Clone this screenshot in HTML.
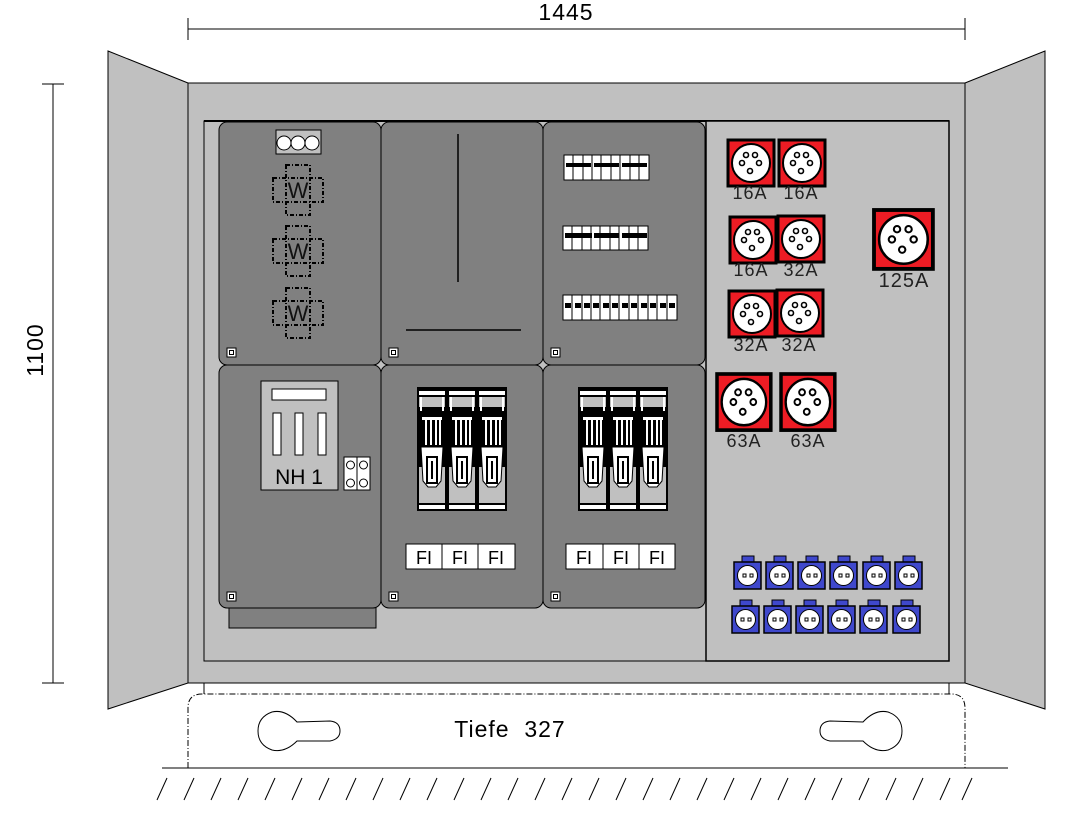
<!DOCTYPE html>
<html><head><meta charset="utf-8"><style>
html,body{margin:0;padding:0;background:#fff;}
svg{display:block;}
text{font-family:"Liberation Sans",sans-serif;}
</style></head><body>
<svg width="1085" height="834" viewBox="0 0 1085 834" xmlns="http://www.w3.org/2000/svg">
<defs>
  <g id="wcross" fill="none" stroke="#000" stroke-width="2" stroke-dasharray="4,2,1,2">
    <rect x="-12" y="-25" width="24" height="50"/>
    <rect x="-25" y="-12" width="50" height="24"/>
  </g>
  <g id="rcd">
    <rect x="0" y="0" width="30" height="124" fill="#000"/>
    <rect x="2" y="4" width="26" height="4" fill="#fff"/>
    <rect x="2" y="10" width="26" height="10" fill="#c0c0c0"/>
    <rect x="3" y="10" width="2" height="14" fill="#fff"/>
    <rect x="25" y="10" width="2" height="14" fill="#fff"/>
    <rect x="2" y="80" width="26" height="36" fill="#c0c0c0"/>
    <path d="M4,60 L26,60 L24,94 L19,100 L11,100 L6,94 Z" fill="#fff" stroke="#000" stroke-width="1"/>
    <rect x="10" y="70" width="10" height="26" fill="#fff" stroke="#000" stroke-width="2"/>
    <rect x="14" y="74" width="2" height="18" fill="#000"/>
    <rect x="8" y="32" width="2" height="26" fill="#fff"/>
    <rect x="13" y="32" width="2" height="26" fill="#fff"/>
    <rect x="18" y="32" width="2" height="26" fill="#fff"/>
    <rect x="22" y="32" width="2" height="26" fill="#fff"/>
    <rect x="5" y="30" width="20" height="3" fill="#fff"/>
    <rect x="2" y="118" width="26" height="4" fill="#fff"/>
  </g>
  <g id="cee">
    <rect x="0" y="0" width="46" height="46" fill="#ed1c24" stroke="#000" stroke-width="3"/>
    <circle cx="23" cy="23" r="19" fill="#fff" stroke="#000" stroke-width="2"/>
    <g fill="none" stroke="#000" stroke-width="1.6">
      <circle cx="18" cy="15" r="2.5"/><circle cx="27" cy="15" r="2.5"/>
      <circle cx="14" cy="23" r="2.5"/><circle cx="31" cy="23" r="2.5"/>
      <circle cx="22" cy="31" r="2.5"/>
    </g>
  </g>
  <g id="schuko">
    <rect x="9" y="0" width="12" height="6" fill="#3f48cc" stroke="#000" stroke-width="1"/>
    <rect x="1" y="6" width="27" height="27" fill="#3f48cc" stroke="#000" stroke-width="1.5"/>
    <circle cx="14.5" cy="19.5" r="10" fill="#fff" stroke="#000" stroke-width="1"/>
    <rect x="10" y="18" width="3" height="3" fill="none" stroke="#000" stroke-width="1"/>
    <rect x="17" y="18" width="3" height="3" fill="none" stroke="#000" stroke-width="1"/>
  </g>
  <g id="sq"><rect x="0" y="0" width="9" height="9" fill="#fff" stroke="#000"/><rect x="2.5" y="2.5" width="4" height="4" fill="none" stroke="#000"/></g>
</defs>

<!-- dimensions -->
<line x1="188" y1="29" x2="965" y2="29" stroke="#000"/>
<line x1="188" y1="18" x2="188" y2="40" stroke="#000"/>
<line x1="965" y1="18" x2="965" y2="40" stroke="#000"/>
<text x="566" y="20" font-size="23" text-anchor="middle" letter-spacing="1">1445</text>
<line x1="53" y1="84" x2="53" y2="683" stroke="#000"/>
<line x1="42" y1="84" x2="64" y2="84" stroke="#000"/>
<line x1="42" y1="683" x2="64" y2="683" stroke="#000"/>
<text x="0" y="0" font-size="23" text-anchor="middle" letter-spacing="1" transform="translate(43,350) rotate(-90)">1100</text>

<!-- doors -->
<polygon points="108,51 188,83 188,683 108,709" fill="#c0c0c0" stroke="#000"/>
<polygon points="965,83 1045,51 1045,709 965,683" fill="#c0c0c0" stroke="#000"/>
<rect x="188" y="83" width="777" height="600" fill="#c0c0c0" stroke="#000"/>
<rect x="204" y="121" width="745" height="540" fill="#c0c0c0" stroke="#000"/>
<line x1="204" y1="121" x2="949" y2="121" stroke="#000" stroke-width="2"/>

<!-- base -->
<line x1="204" y1="683" x2="204" y2="694" stroke="#000"/>
<line x1="949" y1="683" x2="949" y2="694" stroke="#000"/>
<path d="M188,768 L188,708 Q188,694 202,694 L951,694 Q965,694 965,708 L965,768" fill="none" stroke="#000" stroke-dasharray="6,2,1,2"/>
<line x1="162" y1="768" x2="1008" y2="768" stroke="#000"/>
<g stroke="#000">
<line x1="157" y1="800" x2="167" y2="778"/><line x1="184" y1="800" x2="194" y2="778"/>
<line x1="211" y1="800" x2="221" y2="778"/><line x1="238" y1="800" x2="248" y2="778"/>
<line x1="265" y1="800" x2="275" y2="778"/><line x1="292" y1="800" x2="302" y2="778"/>
<line x1="319" y1="800" x2="329" y2="778"/><line x1="346" y1="800" x2="356" y2="778"/>
<line x1="373" y1="800" x2="383" y2="778"/><line x1="400" y1="800" x2="410" y2="778"/>
<line x1="427" y1="800" x2="437" y2="778"/><line x1="454" y1="800" x2="464" y2="778"/>
<line x1="481" y1="800" x2="491" y2="778"/><line x1="508" y1="800" x2="518" y2="778"/>
<line x1="535" y1="800" x2="545" y2="778"/><line x1="562" y1="800" x2="572" y2="778"/>
<line x1="589" y1="800" x2="599" y2="778"/><line x1="616" y1="800" x2="626" y2="778"/>
<line x1="643" y1="800" x2="653" y2="778"/><line x1="670" y1="800" x2="680" y2="778"/>
<line x1="697" y1="800" x2="707" y2="778"/><line x1="724" y1="800" x2="734" y2="778"/>
<line x1="751" y1="800" x2="761" y2="778"/><line x1="778" y1="800" x2="788" y2="778"/>
<line x1="805" y1="800" x2="815" y2="778"/><line x1="832" y1="800" x2="842" y2="778"/>
<line x1="859" y1="800" x2="869" y2="778"/><line x1="886" y1="800" x2="896" y2="778"/>
<line x1="913" y1="800" x2="923" y2="778"/><line x1="940" y1="800" x2="950" y2="778"/>
<line x1="962" y1="800" x2="972" y2="778"/>
</g>
<path d="M297,722 Q285,709 272,712 Q258,717 258,731 Q258,745 272,750 Q285,753 297,741 L330,741 Q340,739 340,731 Q340,722 330,721 Z" fill="#fff" stroke="#000"/>
<path d="M863,722 Q875,709 888,712 Q902,717 902,731 Q902,745 888,750 Q875,753 863,741 L830,741 Q820,739 820,731 Q820,722 830,721 Z" fill="#fff" stroke="#000"/>
<text x="510" y="737" font-size="23" text-anchor="middle" letter-spacing="1" xml:space="preserve">Tiefe  327</text>

<!-- panels -->
<rect x="229" y="606" width="147" height="22" fill="#808080" stroke="#000"/>
<g fill="#808080" stroke="#000">
<rect x="219" y="122" width="162" height="243" rx="8"/>
<rect x="381" y="122" width="162" height="243" rx="8"/>
<rect x="543" y="122" width="162" height="243" rx="8"/>
<rect x="219" y="365" width="162" height="243" rx="8"/>
<rect x="381" y="365" width="162" height="243" rx="8"/>
<rect x="543" y="365" width="162" height="243" rx="8"/>
</g>
<use href="#sq" x="227" y="348"/><use href="#sq" x="389" y="348"/><use href="#sq" x="551" y="348"/>
<use href="#sq" x="227" y="592"/><use href="#sq" x="389" y="592"/><use href="#sq" x="551" y="592"/>

<!-- col1 top -->
<rect x="276" y="130" width="45" height="24" fill="#c0c0c0" stroke="#000"/>
<circle cx="284" cy="143" r="7" fill="#fff" stroke="#000"/>
<circle cx="298" cy="143" r="7" fill="#fff" stroke="#000"/>
<circle cx="312" cy="143" r="7" fill="#fff" stroke="#000"/>
<use href="#wcross" x="298" y="190"/>
<use href="#wcross" x="298" y="251"/>
<use href="#wcross" x="298" y="313"/>
<text x="298" y="198" font-size="22" text-anchor="middle" fill="#111" transform="scale(1,1)">W</text>
<text x="298" y="259" font-size="22" text-anchor="middle" fill="#111">W</text>
<text x="298" y="321" font-size="22" text-anchor="middle" fill="#111">W</text>

<!-- col2 top -->
<line x1="458" y1="134" x2="458" y2="282" stroke="#000" stroke-width="1.5"/>
<line x1="406" y1="330" x2="521" y2="330" stroke="#000" stroke-width="1.5"/>

<!-- col3 top MCBs -->
<g fill="#fff" stroke="#000">
<rect x="564" y="155" width="85" height="25"/>
<rect x="563" y="226" width="85" height="24"/>
<rect x="563" y="295" width="114" height="25"/>
</g>
<g stroke="#000">
<path d="M573,155v25M583,155v25M592,155v25M601,155v25M611,155v25M620,155v25M630,155v25M639,155v25"/>
<path d="M572,226v24M582,226v24M591,226v24M600,226v24M610,226v24M619,226v24M629,226v24M638,226v24"/>
<path d="M572,295v25M582,295v25M591,295v25M600,295v25M610,295v25M619,295v25M629,295v25M638,295v25M648,295v25M657,295v25M667,295v25"/>
</g>
<g fill="#000">
<rect x="566" y="163" width="25" height="4"/><rect x="594" y="163" width="25" height="4"/><rect x="622" y="163" width="25" height="4"/>
<rect x="565" y="233" width="27" height="5"/><rect x="594" y="233" width="25" height="5"/><rect x="622" y="233" width="25" height="5"/>
<rect x="565" y="303" width="6" height="5"/><rect x="575" y="303" width="6" height="5"/><rect x="584" y="303" width="6" height="5"/><rect x="593" y="303" width="6" height="5"/><rect x="603" y="303" width="6" height="5"/><rect x="612" y="303" width="6" height="5"/><rect x="622" y="303" width="6" height="5"/><rect x="631" y="303" width="6" height="5"/><rect x="641" y="303" width="6" height="5"/><rect x="650" y="303" width="6" height="5"/><rect x="660" y="303" width="6" height="5"/><rect x="669" y="303" width="6" height="5"/>
</g>

<!-- col1 bottom NH -->
<rect x="261" y="381" width="77" height="109" fill="#c0c0c0" stroke="#000"/>
<rect x="272" y="389" width="54" height="11" fill="#fff" stroke="#000"/>
<rect x="273" y="413" width="8" height="42" fill="#fff" stroke="#000"/>
<rect x="295" y="413" width="8" height="42" fill="#fff" stroke="#000"/>
<rect x="318" y="413" width="8" height="42" fill="#fff" stroke="#000"/>
<text x="299" y="484" font-size="21" text-anchor="middle">NH 1</text>
<rect x="344" y="457" width="26" height="33" fill="#fff" stroke="#000"/>
<line x1="357" y1="457" x2="357" y2="490" stroke="#000"/>
<g fill="none" stroke="#000"><circle cx="350.5" cy="465" r="4"/><circle cx="363.5" cy="465" r="4"/><circle cx="350.5" cy="483" r="4"/><circle cx="363.5" cy="483" r="4"/></g>

<!-- RCDs -->
<use href="#rcd" x="417" y="387"/><use href="#rcd" x="447" y="387"/><use href="#rcd" x="477" y="387"/>
<use href="#rcd" x="578" y="387"/><use href="#rcd" x="608" y="387"/><use href="#rcd" x="638" y="387"/>
<g fill="#fff" stroke="#000">
<rect x="406" y="544" width="109" height="25"/><rect x="566" y="544" width="109" height="25"/>
</g>
<path d="M442,544v25M478,544v25M603,544v25M639,544v25" stroke="#000"/>
<g font-size="18" text-anchor="middle">
<text x="424" y="564">FI</text><text x="460" y="564">FI</text><text x="496" y="564">FI</text>
<text x="584" y="564">FI</text><text x="621" y="564">FI</text><text x="657" y="564">FI</text>
</g>

<!-- right panel -->
<rect x="706" y="121" width="243" height="540" fill="#c0c0c0" stroke="#000" stroke-width="1.5"/>
<use href="#cee" x="728" y="140"/><use href="#cee" x="779" y="140"/>
<use href="#cee" x="730" y="217"/><use href="#cee" x="778" y="216"/>
<use href="#cee" x="729" y="291"/><use href="#cee" x="777" y="290"/>
<use href="#cee" transform="translate(717,374) scale(1.17,1.22)"/>
<use href="#cee" transform="translate(781,374) scale(1.17,1.22)"/>
<use href="#cee" transform="translate(874,210) scale(1.28,1.28)"/>
<g font-size="18" text-anchor="middle" fill="#222" letter-spacing="1">
<text x="750" y="199">16A</text><text x="801" y="199">16A</text>
<text x="751" y="276">16A</text><text x="801" y="276">32A</text>
<text x="751" y="351">32A</text><text x="799" y="351">32A</text>
<text x="744" y="447">63A</text><text x="808" y="447">63A</text>
<text x="904" y="287" font-size="20">125A</text>
</g>
<use href="#schuko" x="733" y="556"/><use href="#schuko" x="765" y="556"/><use href="#schuko" x="797" y="556"/>
<use href="#schuko" x="829" y="556"/><use href="#schuko" x="862" y="556"/><use href="#schuko" x="894" y="556"/>
<use href="#schuko" x="731" y="600"/><use href="#schuko" x="763" y="600"/><use href="#schuko" x="795" y="600"/>
<use href="#schuko" x="827" y="600"/><use href="#schuko" x="859" y="600"/><use href="#schuko" x="892" y="600"/>
</svg>
</body></html>
